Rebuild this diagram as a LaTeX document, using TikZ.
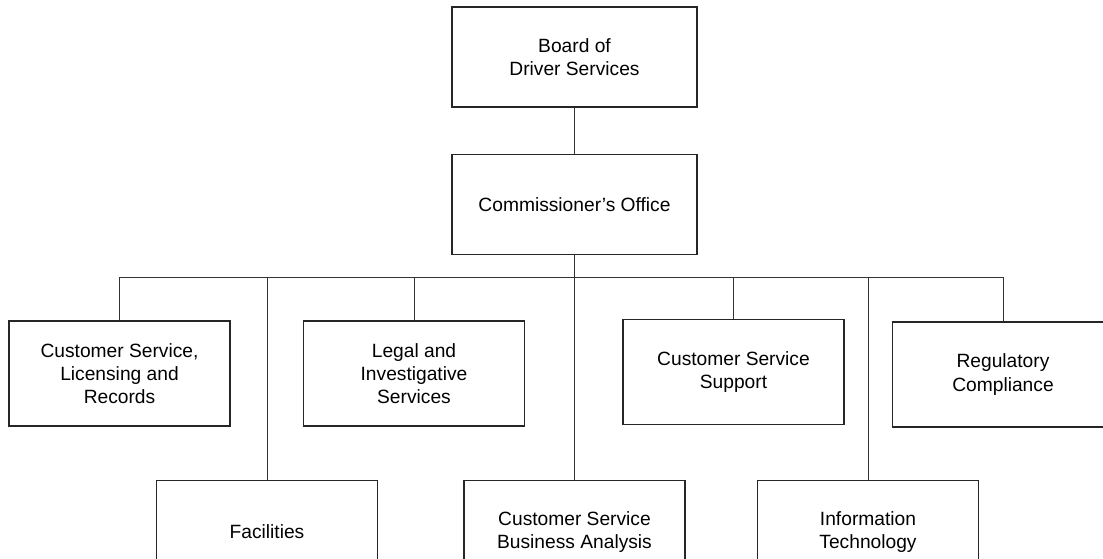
\documentclass[tikz,border=0pt]{standalone}
\usepackage{fontspec}
\setmainfont{Liberation Sans}
\usepackage{tikz}
\usetikzlibrary{positioning}

\begin{document}
\begin{tikzpicture}[x=0.75pt, y=0.75pt,
    org box/.style={draw=black!85, line width=0.95pt, rectangle, minimum width=165.75pt, minimum height=78.75pt, align=center, inner sep=0pt, font=\fontsize{14.4}{17.5}\selectfont},
    top box/.style={org box, minimum width=183.75pt, minimum height=75pt},
    link/.style={draw=black!80, line width=0.75pt},
    node distance=110.6pt]
    \path[clip, use as bounding box] (0,0) rectangle (1103,-558);

    \node[top box] (board) at (574.5,-57) {Board of \\ Driver Services};
    \node[top box, below of=board] (comm) {Commissioner's Office};
    \coordinate (bus) at (574.5,-277.5);

    % first row
    \node[org box] (cslr) at (119.5,-373.5) {Customer Service, \\ Licensing and \\ Records};
    \node[org box] (legal) at (414,-373.5) {Legal and \\ Investigative \\ Services};
    \node[org box] (support) at (733.5,-372) {Customer Service \\ Support};
    \node[org box] (reg) at (1003,-374.5) {Regulatory \\ Compliance};

    % second row
    \node[org box, minimum height=77.25pt] (fac) at (267,-532) {Facilities};
    \node[org box, minimum height=77.25pt] (analysis) at (574.5,-532) {Customer Service \\ Business Analysis};
    \node[org box, minimum height=77.25pt] (it) at (868,-532) {Information \\ Technology};

    \draw[link] (board) -- (comm);
    \draw[link] (comm.south) -- (bus);
    \draw[link] (cslr.north) |- (bus) -| (reg.north);
    \foreach \unit in {legal, support, fac, analysis, it}
        \draw[link] (\unit.north) -- (\unit.north |- bus);
\end{tikzpicture}
\end{document}
